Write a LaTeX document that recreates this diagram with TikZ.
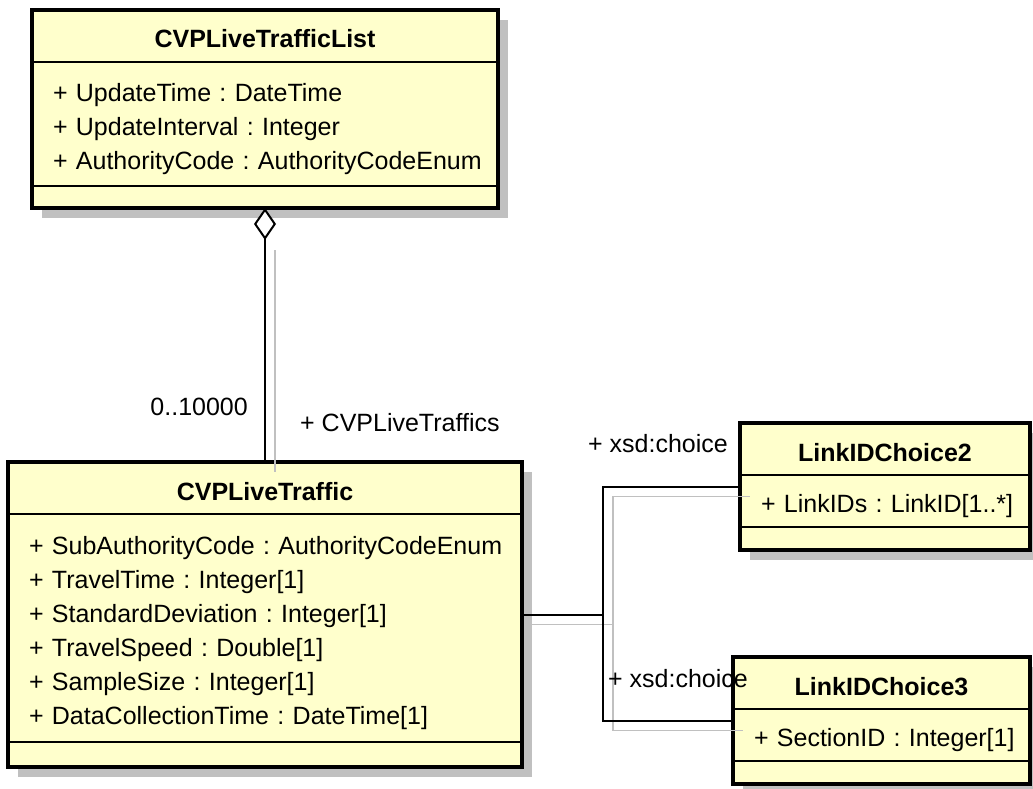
\documentclass[tikz,border=0pt]{standalone}
\usepackage{fontspec}
\setmainfont{Liberation Sans}
\usetikzlibrary{positioning,fit,calc,arrows.meta,shadows,backgrounds}
\definecolor{umlfill}{RGB}{255,255,204}
\definecolor{umlshade}{RGB}{192,192,192}
\newcommand{\umlsize}{\fontsize{25}{34}\selectfont\frenchspacing}
\tikzset{clshead/.style={minimum width=#1, minimum height=52pt, inner sep=0pt, outer sep=0pt, font=\umlsize\bfseries, text height=24pt, text depth=0pt}}
\tikzset{clsbody/.style={text width=#1, inner xsep=21pt, inner ysep=0pt, outer sep=0pt, align=left, font=\umlsize}}
\tikzset{clsfoot/.style={minimum width=#1, inner sep=0pt, outer sep=0pt}}
\tikzset{clsframe/.style={draw, line width=4pt, fill=umlfill, inner sep=0pt, outer sep=0pt, drop shadow={shadow xshift=10pt, shadow yshift=-10pt, fill=umlshade, opacity=1}}}
\tikzset{sepline/.style={draw, line width=1.3pt}}
\tikzset{wire/.style={draw, line width=2pt}}
\tikzset{wireshade/.style={draw=umlshade, line width=1.6pt, transform canvas={xshift=10pt, yshift=-10pt}}}
\tikzset{rolelbl/.style={inner sep=0pt, font=\umlsize}}

\begin{document}
\begin{tikzpicture}[x=1pt, y=-1pt]
	\useasboundingbox (0,0) rectangle (1033,789);

	% CVPLiveTrafficList
	\node[clshead=466pt, anchor=north] (list-head) at (265,10) {CVPLiveTrafficList};
	\node[clsbody=445pt, minimum height=114pt, below right=10pt and 0pt of list-head.south west] (list-body)
		{+ UpdateTime : DateTime\\
		 + UpdateInterval : Integer\\
		 + AuthorityCode : AuthorityCodeEnum};
	\node[clsfoot=466pt, minimum height=22pt, below right=0pt and 0pt of list-body.south west] (list-foot) {};

	% CVPLiveTraffic
	\node[clshead=514pt, below=254pt of list-foot] (traffic-head) {CVPLiveTraffic};
	\node[clsbody=493pt, minimum height=218pt, below right=10pt and 0pt of traffic-head.south west] (traffic-body)
		{+ SubAuthorityCode : AuthorityCodeEnum\\
		 + TravelTime : Integer[1]\\
		 + StandardDeviation : Integer[1]\\
		 + TravelSpeed : Double[1]\\
		 + SampleSize : Integer[1]\\
		 + DataCollectionTime : DateTime[1]};
	\node[clsfoot=514pt, minimum height=25pt, below right=0pt and 0pt of traffic-body.south west] (traffic-foot) {};

	% LinkIDChoice2
	\node[clshead=290pt, anchor=north] (choice2-head) at (885,423) {LinkIDChoice2};
	\node[clsbody=269pt, minimum height=42pt, below right=10pt and 0pt of choice2-head.south west] (choice2-body)
		{+ LinkIDs : LinkID[1..*]};
	\node[clsfoot=290pt, minimum height=23pt, below right=0pt and 0pt of choice2-body.south west] (choice2-foot) {};

	% LinkIDChoice3
	\node[clshead=297pt, anchor=north] (choice3-head) at (881.5,657) {LinkIDChoice3};
	\node[clsbody=276pt, minimum height=42pt, below right=10pt and 0pt of choice3-head.south west] (choice3-body)
		{+ SectionID : Integer[1]};
	\node[clsfoot=297pt, minimum height=23pt, below right=0pt and 0pt of choice3-body.south west] (choice3-foot) {};

	\begin{scope}[on background layer]
		\node[clsframe, fit=(list-head)(list-foot)] (list) {};
		\node[clsframe, fit=(traffic-head)(traffic-foot)] (traffic) {};
		\node[clsframe, fit=(choice2-head)(choice2-foot)] (choice2) {};
		\node[clsframe, fit=(choice3-head)(choice3-foot)] (choice3) {};
	\end{scope}

	\foreach \cls in {list, traffic, choice2, choice3} {
		\draw[sepline] (\cls-head.south west) -- (\cls-head.south east);
		\draw[sepline] (\cls-foot.north west) -- (\cls-foot.north east);
	}

	% connectors
	\coordinate (fork) at ($(traffic.east)+(81,0)$);
	\draw[wireshade] ([yshift=-32pt]list.south) -- (traffic.north);
	\draw[wireshade] (traffic.east) -- (fork) |- (choice2.west);
	\draw[wireshade] (fork) |- (choice3.west);
	\draw[wire, {Diamond[fill=white, length=32pt, width=22pt]}-] (list.south) -- (traffic.north);
	\draw[wire] (traffic.east) -- (fork) |- (choice2.west);
	\draw[wire] (fork) |- (choice3.west);

	\node[rolelbl, above left=46pt and 17pt of traffic.north] (agg-mult) {0..10000};
	\node[rolelbl, above right=30pt and 35pt of traffic.north] (agg-role) {+ CVPLiveTraffics};
	\node[rolelbl, above left=34pt and 12pt of choice2.west] (choice2-role) {+ xsd:choice};
	\node[rolelbl, anchor=south west] (choice3-role) at ([xshift=5pt, yshift=-73pt]fork) {+ xsd:choice};
\end{tikzpicture}
\end{document}
